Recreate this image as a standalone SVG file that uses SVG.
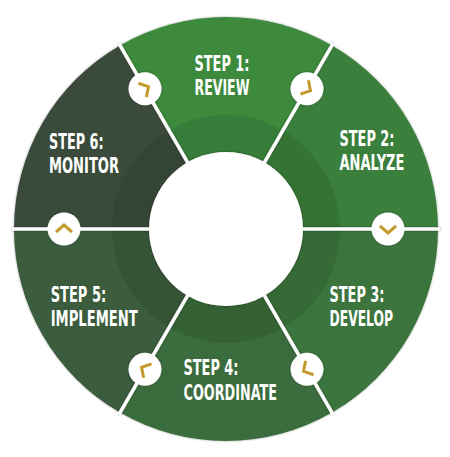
<svg xmlns="http://www.w3.org/2000/svg" xmlns:xlink="http://www.w3.org/1999/xlink" width="450" height="457" viewBox="0 0 450 457">
<defs>
<style>
.lbl{font-family:"Liberation Sans Narrow","DejaVu Sans Condensed","Liberation Sans",sans-serif;font-weight:bold;font-size:21.5px;fill:#ffffff;}
.div{stroke:#ffffff;stroke-width:3.5;fill:none;}
.mk{fill:#ffffff;}
.chev{fill:none;stroke:#c39a2e;stroke-width:3;stroke-linejoin:miter;}
</style>
<filter id="sh" x="-20%" y="-20%" width="140%" height="140%">
<feDropShadow dx="0" dy="0" stdDeviation="1.2" flood-color="#000" flood-opacity="0.35"/>
</filter>
<filter id="shs" x="-50%" y="-50%" width="200%" height="200%">
<feDropShadow dx="0" dy="0" stdDeviation="1" flood-color="#000" flood-opacity="0.4"/>
</filter>
<path id="chevp" d="M-8,-3 L0,4 L8,-3"/>
</defs>
<g id="ring" filter="url(#sh)">
<g id="step1">
<path d="M226,229 L120,45.4 A212,212 0 0 1 332,45.4 Z" fill="#3c8a3e"/>
</g>
<g id="step2">
<path d="M226,229 L332,45.4 A212,212 0 0 1 438,229 Z" fill="#3a7f3c"/>
</g>
<g id="step3">
<path d="M226,229 L438,229 A212,212 0 0 1 332,412.6 Z" fill="#3a743c"/>
</g>
<g id="step4">
<path d="M226,229 L332,412.6 A212,212 0 0 1 120,412.6 Z" fill="#3a6c3c"/>
</g>
<g id="step5">
<path d="M226,229 L120,412.6 A212,212 0 0 1 14,229 Z" fill="#3a5c3c"/>
</g>
<g id="step6">
<path d="M226,229 L14,229 A212,212 0 0 1 120,45.4 Z" fill="#3a4b3b"/>
</g>
<circle cx="226" cy="229" r="114" fill="#000" fill-opacity="0.09"/>
</g>
<g id="connectors">
<g filter="url(#shs)">
<line class="div" x1="119" y1="43.6" x2="333" y2="414.4"/>
<line class="div" x1="333" y1="43.6" x2="119" y2="414.4"/>
<line class="div" x1="12" y1="229" x2="440" y2="229"/>
<circle cx="226" cy="229" r="77" fill="#ffffff"/>
<circle class="mk" cx="145" cy="88.7" r="16.5"/>
<circle class="mk" cx="307" cy="88.7" r="16.5"/>
<circle class="mk" cx="388" cy="229" r="16.5"/>
<circle class="mk" cx="307" cy="369.3" r="16.5"/>
<circle class="mk" cx="145" cy="369.3" r="16.5"/>
<circle class="mk" cx="64" cy="229" r="16.5"/>
</g>
<use xlink:href="#chevp" class="chev" transform="translate(145,88.7) rotate(-120)"/>
<use xlink:href="#chevp" class="chev" transform="translate(307,88.7) rotate(-60)"/>
<use xlink:href="#chevp" class="chev" transform="translate(388,229) rotate(0)"/>
<use xlink:href="#chevp" class="chev" transform="translate(307,369.3) rotate(60)"/>
<use xlink:href="#chevp" class="chev" transform="translate(145,369.3) rotate(120)"/>
<use xlink:href="#chevp" class="chev" transform="translate(64,229) rotate(180)"/>
</g>
<g id="labels">
<g id="label1">
<text class="lbl" x="194.5" y="70.5" textLength="55" lengthAdjust="spacingAndGlyphs">STEP 1:</text>
<text class="lbl" x="194.5" y="95" textLength="55" lengthAdjust="spacingAndGlyphs">REVIEW</text>
</g>
<g id="label2">
<text class="lbl" x="339.5" y="145.5" textLength="55" lengthAdjust="spacingAndGlyphs">STEP 2:</text>
<text class="lbl" x="339.5" y="169.5" textLength="65" lengthAdjust="spacingAndGlyphs">ANALYZE</text>
</g>
<g id="label3">
<text class="lbl" x="329.5" y="301.5" textLength="55" lengthAdjust="spacingAndGlyphs">STEP 3:</text>
<text class="lbl" x="329.5" y="326" textLength="63.5" lengthAdjust="spacingAndGlyphs">DEVELOP</text>
</g>
<g id="label4">
<text class="lbl" x="183.5" y="375" textLength="55" lengthAdjust="spacingAndGlyphs">STEP 4:</text>
<text class="lbl" x="183.5" y="399.5" textLength="93.5" lengthAdjust="spacingAndGlyphs">COORDINATE</text>
</g>
<g id="label5">
<text class="lbl" x="50.7" y="301.5" textLength="55.5" lengthAdjust="spacingAndGlyphs">STEP 5:</text>
<text class="lbl" x="50.7" y="326" textLength="87" lengthAdjust="spacingAndGlyphs">IMPLEMENT</text>
</g>
<g id="label6">
<text class="lbl" x="49" y="149" textLength="54.5" lengthAdjust="spacingAndGlyphs">STEP 6:</text>
<text class="lbl" x="49" y="173.3" textLength="70" lengthAdjust="spacingAndGlyphs">MONITOR</text>
</g>
</g>
</svg>
